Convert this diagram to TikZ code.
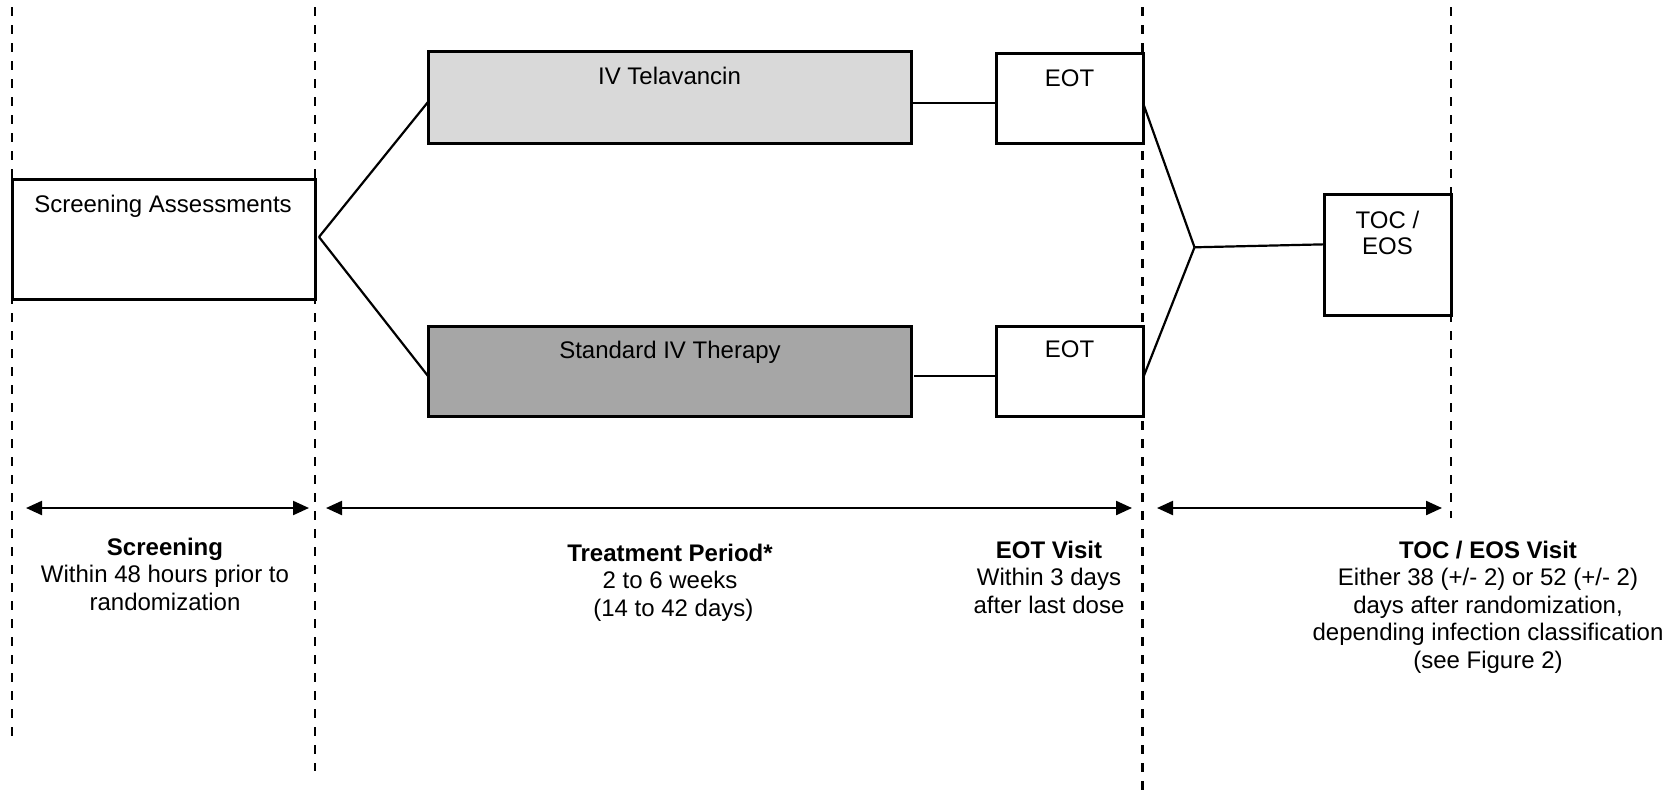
\documentclass[tikz,border=0pt]{standalone}
\usepackage{fontspec}
\setmainfont{Liberation Sans}
\usetikzlibrary{arrows.meta}
\definecolor{lightg}{HTML}{D9D9D9}
\definecolor{darkg}{HTML}{A6A6A6}
\begin{document}
\begin{tikzpicture}[x=0.5pt,y=-0.5pt,
  every node/.style={inner sep=0pt, outer sep=0pt},
  box/.style={draw, line width=1.5pt},
  lbl/.style={font=\fontsize{12}{13.75}\selectfont, align=center},
  txt/.style={font=\fontsize{12}{14}\selectfont, anchor=base},
  conn/.style={line width=1.1pt},
  vdash/.style={line width=1.3pt, dash pattern=on 4.5pt off 4.5pt},
  span/.style={line width=1.1pt, {Triangle[length=8pt,width=7pt]}-{Triangle[length=8pt,width=7pt]}}
  ]
\useasboundingbox (0,0) rectangle (1675,798);

% vertical dashed guides
\coordinate (d1t) at (12,7);     \coordinate (d1b) at (12,745);
\coordinate (d2t) at (315,7);    \coordinate (d2b) at (315,771);
\coordinate (d3t) at (1142.5,7); \coordinate (d3b) at (1142.5,798);
\coordinate (d4t) at (1451,7);   \coordinate (d4b) at (1451,518);
\draw[vdash] (d1t) -- (d1b);
\draw[vdash] (d2t) -- (d2b);
\draw[vdash] (d3t) -- (d3b);
\draw[vdash] (d4t) -- (d4b);

% boxes
\node[box, fill=white, minimum width=151.5pt, minimum height=60pt] (scr) at (163.5,239) {};
\node[box, fill=lightg, minimum width=241.5pt, minimum height=46pt] (tel) at (669.5,97) {};
\node[box, fill=darkg, minimum width=241.5pt, minimum height=45pt] (std) at (669.5,371) {};
\node[box, fill=white, minimum width=73.5pt, minimum height=45pt] (eot1) at (1069.5,98) {};
\node[box, fill=white, minimum width=73.5pt, minimum height=45pt] (eot2) at (1069.5,371) {};
\node[box, fill=white, minimum width=63.5pt, minimum height=60.25pt] (toc) at (1387.5,254.75) {};

% box texts
\node[txt] (scrT) at (163,212) {Screening Assessments};
\node[txt] (telT) at (669.5,84) {IV Telavancin};
\node[txt] (stdT) at (670,358) {Standard IV Therapy};
\node[txt] (eot1T) at (1069.5,86) {EOT};
\node[txt] (eot2T) at (1069.5,357.5) {EOT};
\node[lbl, anchor=north, font=\fontsize{12}{13.25}\selectfont] (tocT) at (1387.5,211) {TOC /\\EOS};

% junctions
\coordinate (j1) at (319,237);
\coordinate (j2) at (1194.5,247.3);

% connectors
\draw[conn] (j1) -- ([yshift=-2.5pt]tel.west);
\draw[conn] (j1) -- ([yshift=-2.5pt]std.west);
\draw[conn] ([yshift=-3pt]tel.east) -- ([yshift=-3pt]tel.east -| eot1.west);
\draw[conn] ([xshift=1.5pt,yshift=-2.5pt]std.east) -- ([yshift=-2.5pt]std.east -| eot2.west);
\draw[conn] ([yshift=-2.5pt]eot1.east) -- (j2);
\draw[conn] ([yshift=-3.5pt]eot2.east) -- (j2);
\draw[conn] (j2) -- ([yshift=5.2pt]toc.west);

% span arrows
\coordinate (a1l) at (26,508);   \coordinate (a1r) at (309,508);
\coordinate (a2l) at (326,508);  \coordinate (a2r) at (1132,508);
\coordinate (a3l) at (1157,508); \coordinate (a3r) at (1442,508);
\draw[span] (a1l) -- (a1r);
\draw[span] (a2l) -- (a2r);
\draw[span] (a3l) -- (a3r);

% phase labels
\node[lbl, anchor=north] (scrL) at (165,538) {\textbf{Screening}\\Within 48 hours prior to\\randomization};
\node[lbl, anchor=north] (trtL) at (670,544) {\textbf{Treatment Period*}\\2 to 6 weeks\\~(14 to 42 days)};
\node[lbl, anchor=north] (eotL) at (1049,541) {\textbf{EOT Visit}\\Within 3 days\\after last dose};
\node[lbl, anchor=north] (tocL) at (1488,541) {\textbf{TOC / EOS Visit}\\Either 38 (+/- 2) or 52 (+/- 2)\\days after randomization,\\depending infection classification\\(see Figure 2)};
\end{tikzpicture}
\end{document}
